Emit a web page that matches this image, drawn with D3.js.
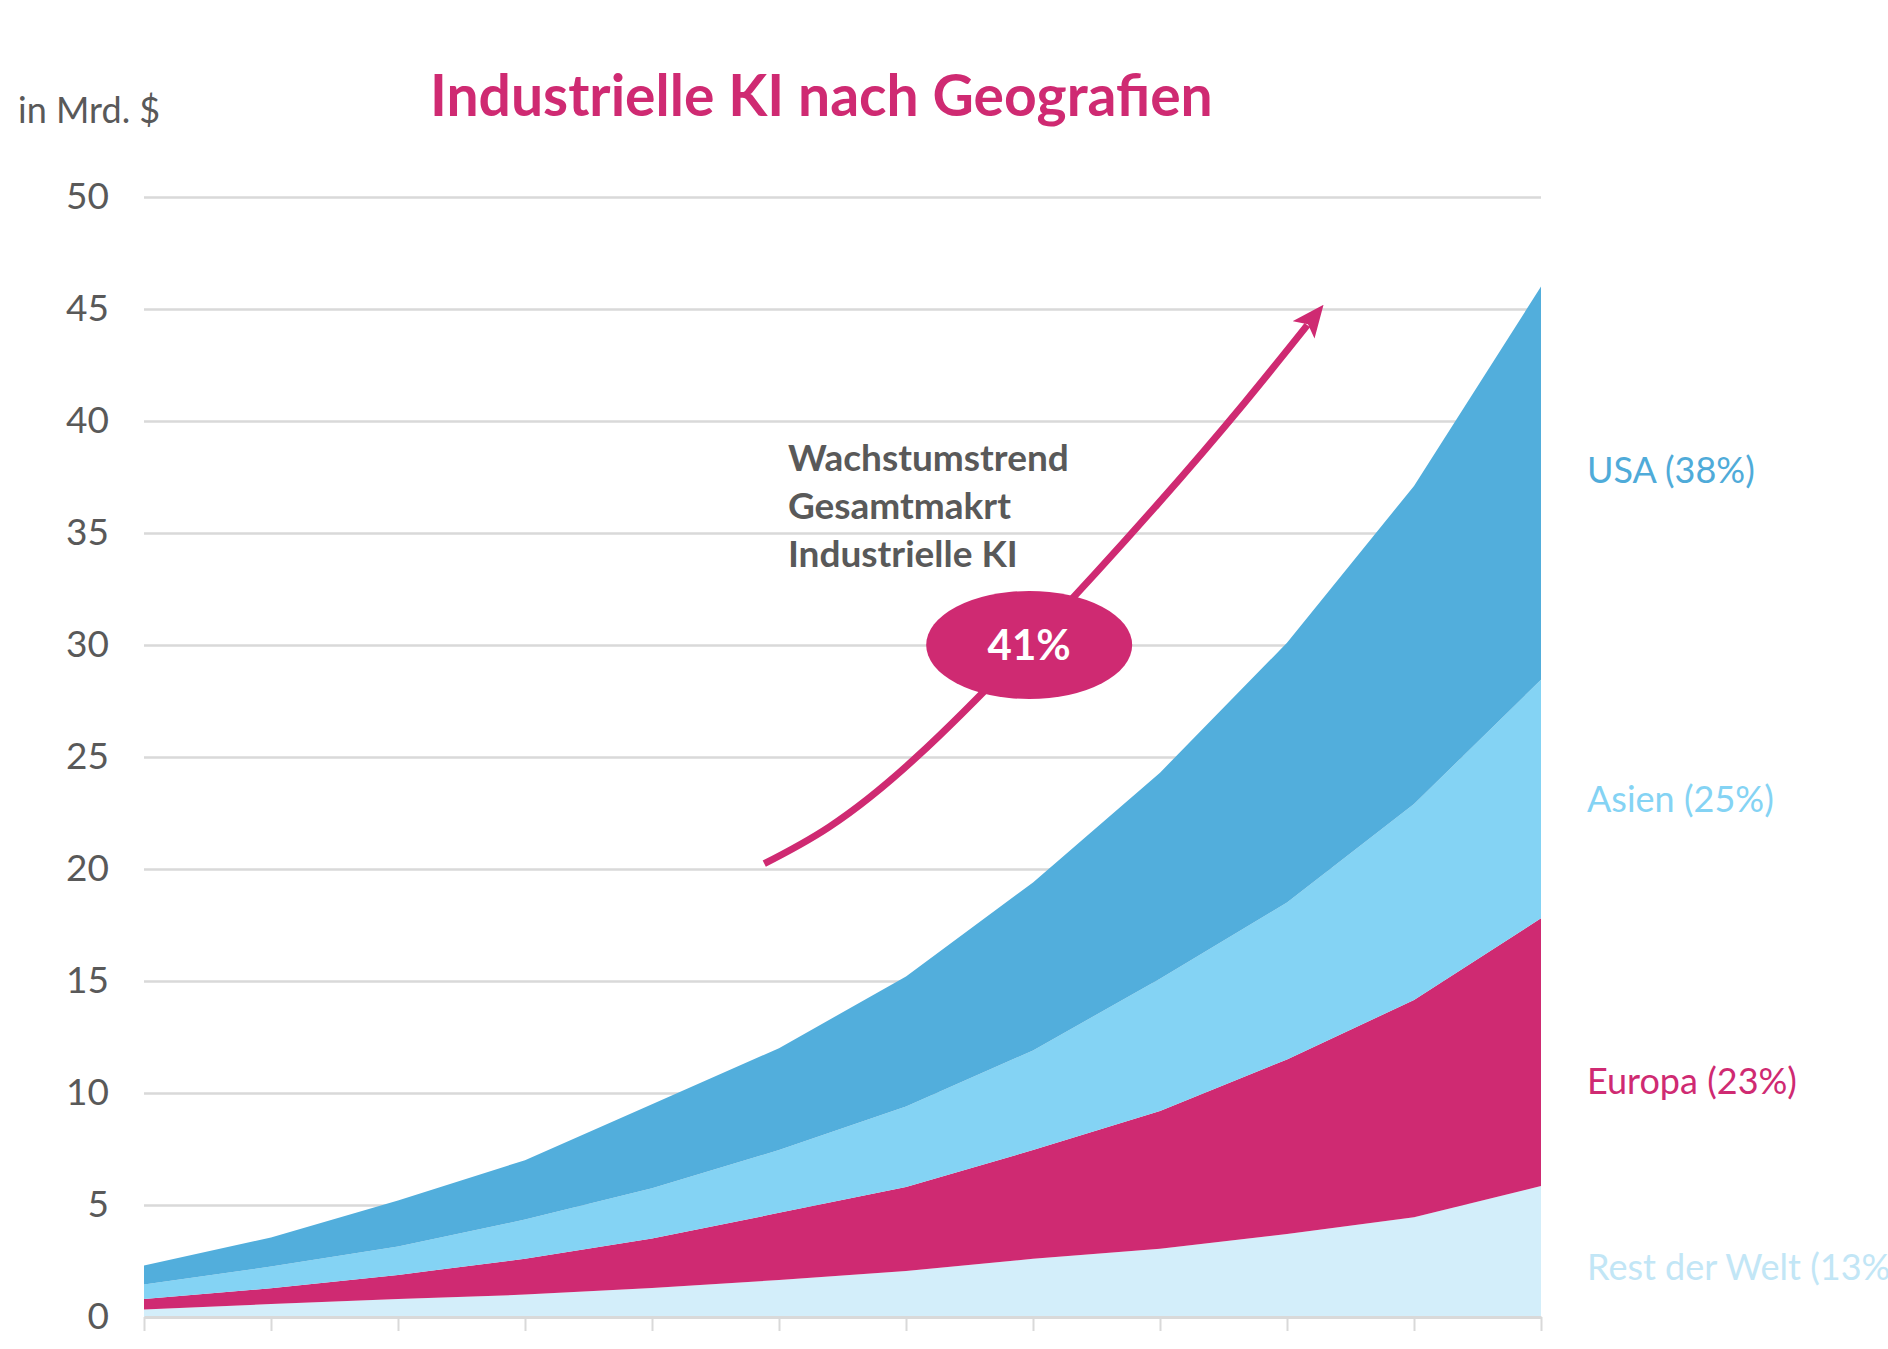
<!DOCTYPE html>
<html lang="de">
<head>
<meta charset="utf-8">
<title>Industrielle KI nach Geografien</title>
<script src="https://cdn.jsdelivr.net/npm/d3@7"></script>
<style>
  html, body { margin: 0; padding: 0; background: #fff; overflow: hidden; }
  svg { display: block; font-family: Lato, "Open Sans", sans-serif; }
</style>
</head>
<body>
<svg id="chart" width="1888" height="1349"></svg>
<script>
// Jahre (auf der Achse nicht beschriftet)
const years = [2014, 2015, 2016, 2017, 2018, 2019, 2020, 2021, 2022, 2023, 2024, 2025];

// Marktvolumen je Region, in Mrd. $ (gestapelt von unten nach oben)
const rest   = [0.33, 0.58, 0.80, 1.00, 1.30, 1.65, 2.05, 2.60, 3.05, 3.70, 4.45, 5.85];
const europa = [0.47, 0.70, 1.08, 1.60, 2.20, 3.00, 3.75, 4.85, 6.15, 7.80, 9.70, 11.95];
const asien  = [0.65, 0.97, 1.27, 1.75, 2.25, 2.80, 3.60, 4.45, 5.90, 7.00, 8.75, 10.65];
const usa    = [0.85, 1.30, 2.05, 2.65, 3.75, 4.55, 5.80, 7.50, 9.20, 11.60, 14.20, 17.55];

const keys = ["rest", "europa", "asien", "usa"];
const seriesLabels = ["Rest der Welt (13%)", "Europa (23%)", "Asien (25%)", "USA (38%)"];
const yTicks = [0, 5, 10, 15, 20, 25, 30, 35, 40, 45, 50];

const colors = { rest: "#d3eefa", europa: "#cf2a72", asien: "#84d3f4", usa: "#52aedc" };
const labelColors = { rest: "#c2e6f6", europa: "#cf2a72", asien: "#84d3f4", usa: "#4fabd9" };
// Höhe der Beschriftungen rechts (in Mrd. $)
const labelAt = { rest: 2.2, europa: 10.5, asien: 23.1, usa: 37.8 };

// Trendpfeil (x = Index des Jahres, y = Mrd. $)
const trend = [[4.884, 20.24], [6.08, 24.98], [7.98, 36.28], [9.16, 44.28]];

const table = years.map((yr, i) => ({
  year: yr, rest: rest[i], europa: europa[i], asien: asien[i], usa: usa[i]
}));

const svg = d3.select("#chart");
const W = +svg.attr("width");
const H = +svg.attr("height");
const margin = { top: 197, right: 347, bottom: 32, left: 144 };

const x = d3.scalePoint()
  .domain(years)
  .range([margin.left, W - margin.right]);

const xi = d3.scaleLinear()
  .domain([0, years.length - 1])
  .range(x.range());

const y = d3.scaleLinear()
  .domain([0, 50])
  .range([H - margin.bottom, margin.top]);

// Gitternetz
svg.append("g")
  .attr("transform", `translate(${margin.left},0)`)
  .call(d3.axisLeft(y).tickValues(yTicks).tickSize(-(W - margin.right - margin.left)).tickFormat(""))
  .call(g => g.select(".domain").remove())
  .selectAll("line")
  .attr("stroke", "#d9d9d9")
  .attr("stroke-width", 2.5);

// Flächen
const stacked = d3.stack().keys(keys)(table);
const area = d3.area()
  .x(d => x(d.data.year))
  .y0(d => y(d[0]))
  .y1(d => y(d[1]));

svg.selectAll(".layer")
  .data(stacked)
  .enter()
  .append("path")
  .attr("class", "layer")
  .attr("d", area)
  .attr("fill", d => colors[d.key]);

// x-Achse
const xAxis = svg.append("g")
  .attr("transform", `translate(0,${y(0)})`)
  .call(d3.axisBottom(x).tickSize(14).tickSizeOuter(0).tickFormat(""));
xAxis.select(".domain").attr("stroke", "#d9d9d9").attr("stroke-width", 3);
xAxis.selectAll(".tick line").attr("stroke", "#d9d9d9").attr("stroke-width", 2);

// y-Beschriftung
const yAxis = svg.append("g")
  .attr("transform", `translate(${margin.left},0)`)
  .call(d3.axisLeft(y).tickValues(yTicks).tickSize(0).tickPadding(35));
yAxis.select(".domain").remove();
yAxis.selectAll("text")
  .attr("fill", "#595959")
  .style("font-family", "Lato, 'Open Sans', sans-serif")
  .style("font-size", "37px");

// Beschriftung der Regionen
svg.selectAll(".series-label")
  .data(keys)
  .enter()
  .append("text")
  .attr("class", "series-label")
  .attr("x", 1587)
  .attr("y", k => y(labelAt[k]))
  .attr("dy", "0.35em")
  .attr("fill", k => labelColors[k])
  .style("font-size", "36px")
  .text((k, i) => seriesLabels[i]);

// Titel & Einheit
svg.append("text")
  .attr("x", 430)
  .attr("y", 116)
  .attr("fill", "#cf2a72")
  .style("font-size", "57px")
  .style("font-weight", "bold")
  .text("Industrielle KI nach Geografien");

svg.append("text")
  .attr("x", 18)
  .attr("y", 123)
  .attr("fill", "#595959")
  .style("font-size", "36px")
  .text("in Mrd. $");

// Trendpfeil
svg.append("defs").append("marker")
  .attr("id", "head")
  .attr("viewBox", "0 0 32 28")
  .attr("refX", 6)
  .attr("refY", 14)
  .attr("markerWidth", 32)
  .attr("markerHeight", 28)
  .attr("markerUnits", "userSpaceOnUse")
  .attr("orient", "auto")
  .append("path")
  .attr("d", "M0,0 L32,14 L0,28 L7,14 Z")
  .attr("fill", "#cf2a72");

svg.append("path")
  .datum(trend)
  .attr("d", d3.line().x(d => xi(d[0])).y(d => y(d[1])).curve(d3.curveNatural))
  .attr("fill", "none")
  .attr("stroke", "#cf2a72")
  .attr("stroke-width", 7)
  .attr("marker-end", "url(#head)");

const note = svg.append("text")
  .attr("x", xi(5.07))
  .attr("y", y(37.75))
  .attr("fill", "#595959")
  .style("font-size", "37px")
  .style("font-weight", "bold");
["Wachstumstrend", "Gesamtmakrt", "Industrielle KI"].forEach((t, i) => {
  note.append("tspan")
    .attr("x", xi(5.07))
    .attr("dy", i === 0 ? 0 : 48)
    .text(t);
});

svg.append("ellipse")
  .attr("cx", xi(6.97))
  .attr("cy", y(30))
  .attr("rx", 103)
  .attr("ry", 54)
  .attr("fill", "#cf2a72");

svg.append("text")
  .attr("x", xi(6.97))
  .attr("y", y(30))
  .attr("dy", "0.36em")
  .attr("text-anchor", "middle")
  .attr("fill", "#fff")
  .style("font-size", "42px")
  .style("font-weight", "bold")
  .text("41%");
</script>
</body>
</html>
